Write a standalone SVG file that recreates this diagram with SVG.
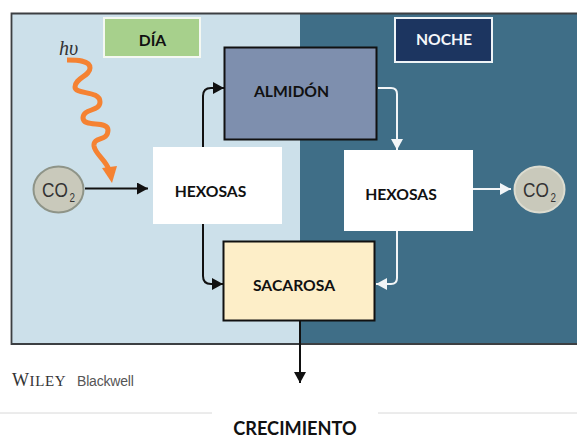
<svg xmlns="http://www.w3.org/2000/svg" width="577" height="439" viewBox="0 0 577 439">
<style>
.lb{font-family:Lato,"Open Sans",sans-serif;font-weight:700;font-size:15.700px;fill:#111}
.co{font-family:"Liberation Sans",Arial,sans-serif;font-size:21px;fill:#333}
.co tspan{font-size:12px}
.blk{fill:none;stroke:#111;stroke-width:2}
.wht{fill:none;stroke:#f2f5f7;stroke-width:2}
.circ{fill:#c9c9bb;stroke:#8e9488;stroke-width:2}
</style>
<defs>
<marker id="ab" markerUnits="userSpaceOnUse" markerWidth="12" markerHeight="14" refX="11" refY="6" orient="auto"><path d="M0 0L11 6L0 12Z" fill="#111"/></marker>
<marker id="aw" markerUnits="userSpaceOnUse" markerWidth="12" markerHeight="14" refX="11" refY="6" orient="auto"><path d="M0 0L11 6L0 12Z" fill="#f2f5f7"/></marker>
</defs>
<g id="frame">
<rect x="12" y="13" width="288" height="331" fill="#cce0ea"/>
<rect x="300" y="13" width="277" height="331" fill="#3f6e87"/>
<path d="M577 13.500H11.500V344H577" fill="none" stroke="#3c3f42" stroke-width="1.800"/>
</g>
<g id="rules"><path d="M0 413H212M378 413H577" stroke="#d8d8d8" stroke-width="1"/></g>
<g id="connectors">
<path class="blk" d="M85 188.500H148" marker-end="url(#ab)"/>
<path class="blk" d="M203 147V96Q203 88 211 88H224" marker-end="url(#ab)"/>
<path class="blk" d="M203 224V276Q203 284 211 284H223" marker-end="url(#ab)"/>
<path class="wht" d="M378 88H391Q397 88 397 94V150" marker-end="url(#aw)"/>
<path class="wht" d="M397 231V278Q397 284 391 284H376" marker-end="url(#aw)"/>
<path class="wht" d="M472 189H511" marker-end="url(#aw)"/>
<path class="blk" d="M300 321V383" marker-end="url(#ab)"/>
<path fill="none" stroke="#f58232" stroke-width="5" d="M67 60C76 60 90 60 90 68C90 76 75 78 75 87C75 95 100 90 100 102C100 112 83 108 83 118C83 128 108 120 108 130C108 142 93 136 94 146C95 154 106 160 109 170"/>
<path fill="#f58232" d="M102 168L117 166L112 183Z"/>
</g>
<g id="dia"><rect x="104" y="18" width="96" height="39" fill="#a7d08c" stroke="#f4f8f2" stroke-width="2"/><text class="lb" x="152.500" y="46" text-anchor="middle">DÍA</text></g>
<g id="noche"><rect x="395" y="18" width="97" height="44" fill="#1c3560" stroke="#eef3f6" stroke-width="2"/><text class="lb" x="444" y="45" text-anchor="middle" style="fill:#f5f7fa">NOCHE</text></g>
<g id="almidon"><rect x="224.500" y="47.500" width="152" height="92" fill="#7e8fae" stroke="#111" stroke-width="2"/><text class="lb" x="291.500" y="97" text-anchor="middle">ALMIDÓN</text></g>
<g id="hexosas-dia"><rect x="153" y="147" width="129" height="77" fill="#fff"/><text class="lb" x="210.500" y="197" text-anchor="middle">HEXOSAS</text></g>
<g id="hexosas-noche"><rect x="344" y="150" width="129" height="81" fill="#fff"/><text class="lb" x="401" y="200" text-anchor="middle">HEXOSAS</text></g>
<g id="sacarosa"><rect x="223.500" y="241.500" width="151" height="79" fill="#fdeec8" stroke="#111" stroke-width="2"/><text class="lb" x="294" y="291" text-anchor="middle">SACAROSA</text></g>
<g id="co2-dia"><ellipse cx="58.500" cy="189.500" rx="25" ry="23" class="circ"/><text class="co" transform="translate(42 197) scale(.82 1)">CO<tspan dx="2" dy="5">2</tspan></text></g>
<g id="co2-noche"><ellipse cx="539.500" cy="189.500" rx="25" ry="23" class="circ" style="stroke:#dcdcd0"/><text class="co" transform="translate(523 197) scale(.82 1)">CO<tspan dx="2" dy="5">2</tspan></text></g>
<text x="59" y="55" font-family="Liberation Serif,serif" font-style="italic" font-size="20" fill="#333">hυ</text>
<text x="12" y="386" font-family="Liberation Serif,serif" font-size="18" fill="#333" letter-spacing=".6">W<tspan font-size="15">ILEY</tspan></text>
<text x="77" y="386" font-family="Liberation Sans,sans-serif" font-size="14" fill="#555" letter-spacing="-.2">Blackwell</text>
<text class="lb" x="295" y="435" text-anchor="middle" style="font-size:18.200px">CRECIMIENTO</text>
</svg>
